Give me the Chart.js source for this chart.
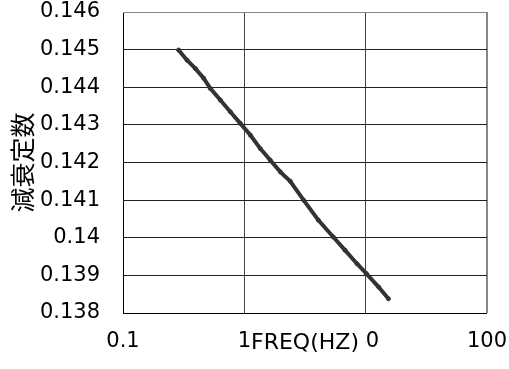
<!DOCTYPE html>
<html>
<head>
<meta charset="utf-8">
<script src="https://cdn.jsdelivr.net/npm/chart.js@4/dist/chart.umd.min.js"></script>
<style>
  html, body { margin: 0; padding: 0; background: #fff; }
  canvas { display: block; }
</style>
</head>
<body>
<canvas id="dampingChart" width="509" height="369"></canvas>
<script>
// values
var freq = [0.287, 0.337, 0.394, 0.462, 0.524, 0.634, 0.766, 0.926, 1.12, 1.354, 1.637,
            1.979, 2.392, 3.08, 4.07, 5.41, 6.75, 8.48, 10.1, 12.8, 15.4];
var damping = [0.14499, 0.14472, 0.14450, 0.14424, 0.14397, 0.14366, 0.14335, 0.14304, 0.14273, 0.14237, 0.14206,
               0.14175, 0.14150, 0.14100, 0.14047, 0.14002, 0.13967, 0.13931, 0.13905, 0.13869, 0.13838];
var xTicks = [0.1, 1, 10, 100];
var yTicks = [0.138, 0.139, 0.140, 0.141, 0.142, 0.143, 0.144, 0.145, 0.146];
var xTitle = 'FREQ(HZ)';
var yTitle = '減衰定数';

var points = freq.map((f, i) => ({ x: f, y: damping[i] }));

// axis titles sit on top of the tick labels like in the original
var axisTitles = {
    id: 'axisTitles',
    afterDraw: function (chart) {
        var ctx = chart.ctx;
        var area = chart.chartArea;
        ctx.save();
        ctx.textAlign = 'center';
        ctx.textBaseline = 'middle';

        ctx.font = '22px "DejaVu Sans"';
        var cx = (area.left + area.right) / 2;
        var w = ctx.measureText(xTitle).width;
        ctx.fillStyle = '#fff';
        ctx.fillRect(cx - w / 2 - 1, area.bottom + 16, w + 8, 30);
        ctx.fillStyle = '#000';
        ctx.fillText(xTitle, cx, area.bottom + 30);

        ctx.font = '25px "Noto Sans CJK JP"';
        ctx.translate(area.left - 101, (area.top + area.bottom) / 2);
        ctx.rotate(-Math.PI / 2);
        ctx.fillText(yTitle, 0, 0);
        ctx.restore();
    }
};

var ctx = document.getElementById('dampingChart').getContext('2d');
new Chart(ctx, {
    type: 'line',
    data: {
        datasets: [{
            data: points,
            borderColor: '#333',
            backgroundColor: '#333',
            borderWidth: 4,
            pointRadius: 2,
            pointBorderWidth: 1,
            fill: false,
            tension: 0
        }]
    },
    options: {
        responsive: false,
        animation: false,
        devicePixelRatio: 1,
        layout: { padding: { top: 12, right: 22, left: 0, bottom: 0 } },
        plugins: {
            legend: { display: false },
            tooltip: { enabled: false }
        },
        scales: {
            x: {
                type: 'logarithmic',
                min: 0.1,
                max: 100,
                afterBuildTicks: function (scale) {
                    scale.ticks = xTicks.map(v => ({ value: v }));
                },
                afterFit: function (scale) {
                    scale.height = 56;
                    scale.paddingLeft = 0;
                    scale.paddingRight = 0;
                },
                border: { display: false },
                grid: {
                    drawTicks: false,
                    lineWidth: function (c) { return c.tick && c.tick.value === 100 ? 2 : 1; },
                    color: function (c) {
                        if (!c.tick) return '#444';
                        if (c.tick.value === 0.1) return '#000';
                        if (c.tick.value === 100) return '#888';
                        return '#444';
                    }
                },
                ticks: {
                    padding: 16,
                    maxRotation: 0,
                    autoSkip: false,
                    color: '#000',
                    font: { family: 'DejaVu Sans', size: 21 },
                    callback: function (value) { return String(value); }
                }
            },
            y: {
                min: 0.138,
                max: 0.146,
                afterBuildTicks: function (scale) {
                    scale.ticks = yTicks.map(v => ({ value: v }));
                },
                afterFit: function (scale) {
                    scale.width = 123;
                    scale.paddingTop = 0;
                    scale.paddingBottom = 0;
                },
                border: { display: false },
                grid: {
                    drawTicks: false,
                    color: function (c) {
                        if (!c.tick) return '#222';
                        if (Math.abs(c.tick.value - 0.146) < 1e-9) return '#888';
                        if (Math.abs(c.tick.value - 0.138) < 1e-9) return '#000';
                        return '#222';
                    }
                },
                ticks: {
                    padding: 23,
                    color: '#000',
                    font: { family: 'DejaVu Sans', size: 21 },
                    callback: function (value) { return String(+value.toFixed(3)); }
                }
            }
        }
    },
    plugins: [axisTitles]
});
</script>
</body>
</html>
